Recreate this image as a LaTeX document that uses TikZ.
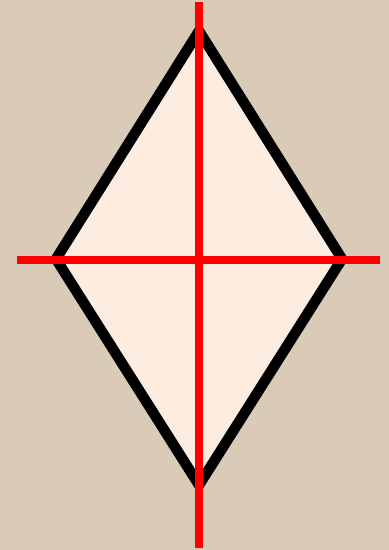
\documentclass[tikz,border=0pt]{standalone}
\definecolor{bgbeige}{RGB}{218,203,184}
\definecolor{peach}{RGB}{253,236,224}
\definecolor{redline}{RGB}{255,0,0}
\tikzset{
  rhomb/.style={draw=black, line width=10.5pt, fill=peach, line join=miter},
  axis/.style={draw=redline, line width=8pt, line cap=butt}
}
\begin{document}
\begin{tikzpicture}[x=1pt,y=-1pt]
\fill[bgbeige] (0,0) rectangle (389,550);
\useasboundingbox (0,0) rectangle (389,550);
\coordinate (T) at (199,31);
\coordinate (L) at (56,259);
\coordinate (R) at (342,259);
\coordinate (B) at (199,485);
\path[rhomb] (T) -- (R) -- (B) -- (L) -- cycle;
\coordinate (vt) at (199,2);
\coordinate (vb) at (199,548);
\coordinate (hl) at (17,259.5);
\coordinate (hr) at (380,259.5);
\draw[axis] (vt) -- (vb);
\draw[axis] (hl) -- (hr);
\end{tikzpicture}
\end{document}
